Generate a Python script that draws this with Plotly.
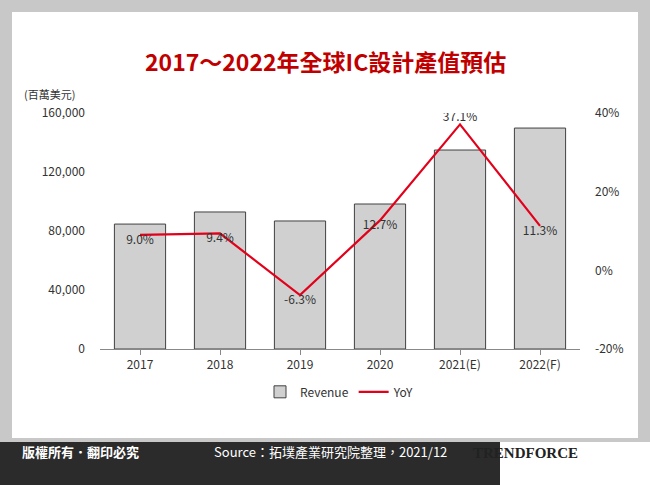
import plotly.graph_objects as go

years = ["2017", "2018", "2019", "2020", "2021(E)", "2022(F)"]
revenue = [84700, 92900, 86800, 98300, 134900, 149800]
yoy = [9.0, 9.4, -6.3, 12.7, 37.1, 11.3]
yoy_labels = ["9.0%", "9.4%", "-6.3%", "12.7%", "37.1%", "11.3%"]

W, H = 650, 485
L, R, T, B = 100, 70, 113, 136
pw, ph = W - L - R, H - T - B


def px(x):
    return (x - L) / pw


def py(y):
    return (H - B - y) / ph


fig = go.Figure()
fig.add_trace(go.Bar(x=years, y=revenue, name="Revenue", width=0.64,
                     marker=dict(color="#d0d0d0", line=dict(color="#404040", width=1))))
fig.add_trace(go.Scatter(x=years, y=yoy, name="YoY", yaxis="y2", mode="lines+text",
                         line=dict(color="#e3001b", width=2.2),
                         text=yoy_labels,
                         textposition=["bottom center", "bottom center", "bottom center",
                                       "bottom center", "top center", "bottom center"],
                         textfont=dict(size=12, color="#333")))

shapes = [
    dict(type="rect", xref="paper", yref="paper", x0=px(0), x1=px(W), y0=py(H), y1=py(0),
         fillcolor="#c8c8c8", line_width=0, layer="below"),
    dict(type="rect", xref="paper", yref="paper", x0=px(12), x1=px(638), y0=py(438), y1=py(12),
         fillcolor="white", line_width=0, layer="below"),
    dict(type="rect", xref="paper", yref="paper", x0=px(0), x1=px(W), y0=py(H), y1=py(442),
         fillcolor="#2b2b2b", line_width=0, layer="below"),
    dict(type="rect", xref="paper", yref="paper", x0=px(500), x1=px(W), y0=py(H), y1=py(442),
         fillcolor="white", line_width=0, layer="below"),
]

ann = [
    dict(text="<b>2017～2022年全球IC設計產值預估</b>", x=px(325), y=py(42), xref="paper", yref="paper",
         showarrow=False, font=dict(size=23, color="#c00000", family="Noto Sans CJK TC")),
    dict(text="(百萬美元)", x=px(22), y=py(94), xref="paper", yref="paper", xanchor="left",
         yanchor="middle", showarrow=False, font=dict(size=11, color="#333")),
    dict(text="<b>版權所有．翻印必究</b>", x=px(20), y=py(463), xref="paper", yref="paper", xanchor="left",
         showarrow=False, font=dict(size=13, color="white")),
    dict(text="Source：拓墣產業研究院整理，2021/12", x=px(330), y=py(463), xref="paper", yref="paper",
         showarrow=False, font=dict(size=13, color="white")),
    dict(text="<b>TRENDFORCE</b>", x=px(580), y=py(463), xref="paper", yref="paper",
         showarrow=False, font=dict(size=15, color="#222", family="Liberation Serif")),
]

fig.update_layout(
    width=W, height=H, margin=dict(l=L, r=R, t=T, b=B, autoexpand=False),
    paper_bgcolor="white", plot_bgcolor="rgba(0,0,0,0)",
    font=dict(family="Noto Sans CJK TC", size=12, color="#333"),
    xaxis=dict(showline=True, linecolor="#888", ticks="outside", tickcolor="#888", automargin=False),
    yaxis=dict(range=[0, 160000], tickvals=[0, 40000, 80000, 120000, 160000],
               ticktext=["0", "40,000", "80,000", "120,000", "160,000"],
               showgrid=False, zeroline=False, automargin=False, ticklabelstandoff=14),
    yaxis2=dict(overlaying="y", side="right", range=[-20, 40], tickvals=[-20, 0, 20, 40],
                ticktext=["-20%", "0%", "20%", "40%"], showgrid=False, zeroline=False,
                automargin=False, ticklabelstandoff=14),
    legend=dict(orientation="h", x=0.5, xanchor="center", y=-0.12, yanchor="top",
                font=dict(size=12)),
    bargap=0.34, shapes=shapes, annotations=ann,
)

fig.write_html("out.html", config={"displayModeBar": False},
               post_script="document.body.style.margin='0';")
